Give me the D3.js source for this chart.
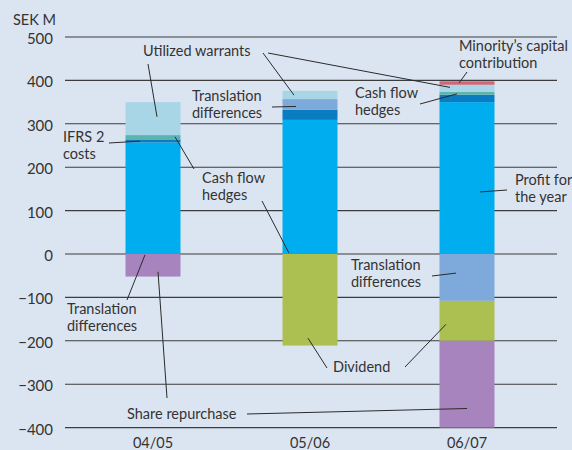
<!DOCTYPE html>
<html>
<head>
<meta charset="utf-8">
<script src="https://cdn.jsdelivr.net/npm/d3@7/dist/d3.min.js"></script>
<style>
  html, body { margin: 0; padding: 0; background: #dbe5f1; }
  svg { display: block; }
  text { font-family: Lato, "Liberation Sans", sans-serif; fill: #333; }
</style>
</head>
<body>
<svg id="chart" width="572" height="450"></svg>
<script>
// Equity bridge per fiscal year, SEK M
const categories = ["04/05", "05/06", "06/07"];
const profitForYear        = [257, 309, 350];
const ifrs2Costs           = [7, 23, 17];
const cashFlowHedges       = [10, 0, 7];
const translationDiffs     = [0, 25, -108];
const utilizedWarrants     = [76, 19, 16];
const minorityContribution = [0, 0, 8];
const dividend             = [0, -211, -92];
const shareRepurchase      = [-52, 0, -200];
const yTicks = [-400, -300, -200, -100, 0, 100, 200, 300, 400, 500];

const seriesKeys = ["profit", "ifrs2", "cashflow", "translation", "warrants", "minority", "dividend", "repurchase"];
const seriesValues = {
  profit: profitForYear, ifrs2: ifrs2Costs, cashflow: cashFlowHedges,
  translation: translationDiffs, warrants: utilizedWarrants,
  minority: minorityContribution, dividend: dividend, repurchase: shareRepurchase
};
const colors = {
  profit: "#00aeef", ifrs2: "#0a7dc2", cashflow: "#5bb4b0", translation: "#7eaadb",
  warrants: "#a9d6e7", minority: "#d06677", dividend: "#acbf51", repurchase: "#a884be"
};

const rows = categories.map((c, i) => {
  const r = { category: c };
  seriesKeys.forEach(k => r[k] = seriesValues[k][i]);
  return r;
});

const svg = d3.select("#chart");
const x = d3.scalePoint().domain(categories).range([74.5, 545.5]).padding(0.5);
const y = d3.scaleLinear().domain([-400, 500]).range([427.6, 37]);
const barWidth = 55;

// horizontal grid
svg.append("g").selectAll("line").data(yTicks).join("line")
  .attr("x1", 65).attr("x2", 557)
  .attr("y1", d => y(d)).attr("y2", d => y(d))
  .attr("stroke", "#3d3d3d").attr("stroke-width", 1.1);

// y tick labels
const fmt = d3.format("d");
svg.append("g").selectAll("text").data(yTicks).join("text")
  .attr("x", 53).attr("y", d => y(d) + 7)
  .attr("text-anchor", "end").attr("font-size", 15)
  .text(d => fmt(d));

svg.append("text").attr("x", 13).attr("y", 25).attr("font-size", 14.5).text("SEK M");

// stacked bars
const stacked = d3.stack().keys(seriesKeys).offset(d3.stackOffsetDiverging)(rows);
svg.append("g").selectAll("g").data(stacked).join("g")
  .attr("fill", s => colors[s.key])
  .selectAll("rect").data(s => s.filter(d => d[1] !== d[0])).join("rect")
  .attr("x", d => x(d.data.category) - barWidth / 2)
  .attr("width", barWidth)
  .attr("y", d => y(Math.max(d[0], d[1])))
  .attr("height", d => Math.abs(y(d[0]) - y(d[1])));

// x labels
svg.append("g").selectAll("text").data(categories).join("text")
  .attr("x", d => x(d)).attr("y", 447.5)
  .attr("text-anchor", "middle").attr("font-size", 14.5)
  .text(d => d);

// callouts: text block, and leader lines from a start point to a spot on a bar
const callouts = [
  { lines: ["Utilized warrants"], x: 143, y: 56, leaders: [
      { from: [148, 64], cat: "04/05", dx: 4, value: 316 },
      { from: [263, 53], cat: "05/06", dx: -16, value: 366 },
      { from: [268, 53], cat: "06/07", dx: -17, value: 384 } ] },
  { lines: ["Translation", "differences"], x: 192, y: 101, leaders: [
      { from: [272, 107], cat: "05/06", dx: -14, value: 340 } ] },
  { lines: ["Minority’s capital", "contribution"], x: 459, y: 51, leaders: [
      { from: [467, 72], cat: "06/07", dx: -8, value: 394 } ] },
  { lines: ["Cash flow", "hedges"], x: 355, y: 98, leaders: [
      { from: [420, 104], cat: "06/07", dx: -10, value: 369 } ] },
  { lines: ["IFRS 2", "costs"], x: 63, y: 142, leaders: [
      { from: [109, 143], cat: "04/05", dx: -13, value: 260 } ] },
  { lines: ["Cash flow", "hedges"], x: 202, y: 183, leaders: [
      { from: [194, 169], cat: "04/05", dx: 22, value: 270 },
      { from: [262, 201], cat: "05/06", dx: -21, value: 2 } ] },
  { lines: ["Profit for", "the year"], x: 515, y: 185, leaders: [
      { from: [507, 190], cat: "06/07", dx: 13, value: 143 } ] },
  { lines: ["Translation", "differences"], x: 351, y: 270, leaders: [
      { from: [432, 276], cat: "06/07", dx: -11, value: -44 } ] },
  { lines: ["Translation", "differences"], x: 67, y: 314, leaders: [
      { from: [127, 300], cat: "04/05", dx: -8, value: -2 } ] },
  { lines: ["Dividend"], x: 333, y: 372, leaders: [
      { from: [327, 368], cat: "05/06", dx: -2, value: -194 },
      { from: [405, 367], cat: "06/07", dx: -21, value: -162 } ] },
  { lines: ["Share repurchase"], x: 127, y: 419, leaders: [
      { from: [167, 398], cat: "04/05", dx: 5, value: -41 },
      { from: [247, 414], cat: "06/07", dx: 0, value: -356 } ] }
];

const lineHeight = 16.8;
const cg = svg.append("g");
callouts.forEach(c => {
  c.leaders.forEach(l => {
    cg.append("line")
      .attr("x1", l.from[0]).attr("y1", l.from[1])
      .attr("x2", x(l.cat) + l.dx).attr("y2", y(l.value))
      .attr("stroke", "#2a2a2a").attr("stroke-width", 1);
  });
  const t = cg.append("text").attr("x", c.x).attr("y", c.y).attr("font-size", 14.5);
  c.lines.forEach((s, i) => {
    t.append("tspan").attr("x", c.x).attr("dy", i === 0 ? 0 : lineHeight).text(s);
  });
});
</script>
</body>
</html>
